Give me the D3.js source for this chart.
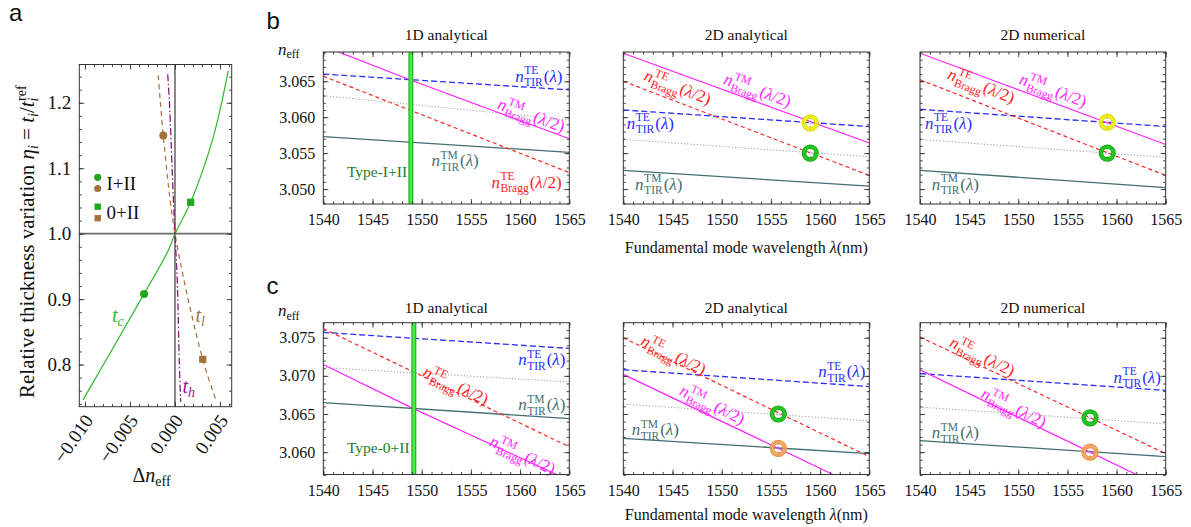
<!DOCTYPE html>
<html><head><meta charset="utf-8">
<script src="https://cdn.jsdelivr.net/npm/d3@7"></script>
<style>body{margin:0;background:#fff}svg{display:block}</style>
</head><body><svg id="chart" width="1191" height="527"></svg>
<script>
// ================= DATA =================
// Panel a : relative thickness variation vs delta n_eff
const tcX = [-0.01022, -0.00344, -0.00072, 0, 0.00174, 0.00426, 0.00592];
const tcY = [0.746, 0.908, 0.975, 1, 1.048, 1.148, 1.249];
const tlX = [-0.00186, -0.0013, 0, 0.00308, 0.00463];
const tlY = [1.242, 1.150, 1, 0.808, 0.743];
const thX = [-0.00081, -0.00063, -0.00019, 0, 0.00026, 0.00048, 0.00063];
const thY = [1.2435, 1.204, 1.056, 1, 0.924, 0.801, 0.743];
const ptsI = [[-0.00344, 0.908], [-0.0013, 1.150]];   // green, brown (circles)
const pts0 = [[0.00174, 1.048], [0.00308, 0.808]];   // green, brown (squares)
const aXTicks = [-0.010, -0.005, 0.000, 0.005];
const aYTicks = [0.8, 0.9, 1.0, 1.1, 1.2];

// Panels b, c : n_eff vs wavelength
const lamEnds = [1540, 1565];
const wlTicks = [1540, 1545, 1550, 1555, 1560, 1565];
const bYTicks = [3.050, 3.055, 3.060, 3.065];
const cYTicks = [3.060, 3.065, 3.070, 3.075];
const panelTitles = ["1D analytical", "2D analytical", "2D numerical"];

// b : 1D analytical
const b1TirTE = [3.0660, 3.0638];
const b1TirTM = [3.0573, 3.0551];
const b1BraggTE = [3.0657, 3.0523];
const b1BraggTMlam = [1540, 1549, 1565];
const b1BraggTM = [3.0699, 3.0651, 3.0570];
const b1Gray = [3.0630, 3.0596];
const b1Type = 1548.9;
// b : 2D analytical
const b2TirTE = [3.0610, 3.0587];
const b2TirTM = [3.0526, 3.0504];
const b2BraggTE = [3.0650, 3.0519];
const b2BraggTM = [3.0689, 3.0564];
const b2Gray = [3.0569, 3.0545];
const b2Marks = [1559.0, 3.0592, 3.0550];   // lambda, yellow, green
// b : 2D numerical
const b3TirTE = [3.0611, 3.0587];
const b3TirTM = [3.0526, 3.0502];
const b3BraggTE = [3.0652, 3.0519];
const b3BraggTM = [3.0689, 3.0562];
const b3Gray = [3.0569, 3.0544];
const b3Marks = [1559.05, 3.0593, 3.0550];

// c : 1D analytical
const c1TirTE = [3.0757, 3.0736];
const c1TirTM = [3.0665, 3.0644];
const c1BraggTE = [3.0762, 3.0607];
const c1BraggTMlam = [1540, 1549, 1565];
const c1BraggTM = [3.0715, 3.0658, 3.0563];
const c1Gray = [3.0711, 3.0692];
const c1Type = 1549.2;
// c : 2D analytical
const c2TirTE = [3.0708, 3.0686];
const c2TirTM = [3.0618, 3.0598];
const c2BraggTE = [3.0750, 3.0594];
const c2BraggTM = [3.0702, 3.0548];
const c2Gray = [3.0663, 3.0641];
const c2Marks = [1555.75, 3.0650, 3.0605];  // lambda, green, orange
// c : 2D numerical
const c3TirTE = [3.0703, 3.0681];
const c3TirTM = [3.0615, 3.0594];
const c3BraggTE = [3.0751, 3.0598];
const c3BraggTM = [3.0708, 3.0552];
const c3Gray = [3.0659, 3.0637];
const c3Marks = [1557.3, 3.0645, 3.0600];

// ================= STYLE =================
const SERIF = '"Liberation Serif","Times New Roman",serif';
const SANS = '"Liberation Sans",Arial,sans-serif';
const C = {blue:"#2b2bff", red:"#ff2222", mag:"#ff22ff", teal:"#436f70", gray:"#9a9a9a",
  green:"#2cb82c", brown:"#a5713f", purple:"#8a1a8a", dkgreen:"#1e7d1e"};

const svg = d3.select("#chart");
svg.append("rect").attr("width", 1191).attr("height", 527).attr("fill", "#fff");
let clipId = 0;

function frameAxes(g, x, y, xMaj, xMin, yMaj, yMin, o) {
  const [x0, x1] = x.range(), [yb, yt] = y.range();
  function ax(fn, scale, vals, len, fmt, tr, pad, fs) {
    const a = fn(scale).tickValues(vals).tickSize(-len).tickPadding(pad || 8).tickFormat(fmt || (() => ""));
    const gg = g.append("g").attr("transform", tr).call(a);
    gg.select(".domain").remove();
    gg.attr("font-family", SERIF).attr("font-size", fs || 16);
    gg.selectAll("line").attr("stroke", "#333").attr("stroke-width", 0.9);
    gg.selectAll("text").attr("fill", "#111");
    return gg;
  }
  const M = 5, m = 2.6;
  const bx = ax(d3.axisBottom, x, xMaj, M, o.xfmt, `translate(0,${yb})`, o.xpad, o.fs);
  ax(d3.axisBottom, x, xMin, m, null, `translate(0,${yb})`);
  ax(d3.axisTop, x, xMaj, M, null, `translate(0,${yt})`);
  ax(d3.axisTop, x, xMin, m, null, `translate(0,${yt})`);
  const ly = ax(d3.axisLeft, y, yMaj, M, o.yfmt, `translate(${x0},0)`, o.ypad, o.fs);
  ax(d3.axisLeft, y, yMin, m, null, `translate(${x0},0)`);
  ax(d3.axisRight, y, yMaj, M, null, `translate(${x1},0)`);
  ax(d3.axisRight, y, yMin, m, null, `translate(${x1},0)`);
  g.append("rect").attr("x", x0).attr("y", yt).attr("width", x1 - x0).attr("height", yb - yt)
    .attr("fill", "none").attr("stroke", "#333").attr("stroke-width", 1);
  return {bx, ly};
}

function nLabel(g, x, y, sup, sub, arg, color, rot) {
  const gg = g.append("g").attr("transform", `translate(${x},${y}) rotate(${rot || 0})`)
    .attr("fill", color).attr("font-family", SERIF);
  const n = gg.append("text").attr("font-size", 17).attr("font-style", "italic").text("n");
  const nw = n.node().getComputedTextLength();
  const sp = gg.append("text").attr("x", nw + 0.5).attr("y", -7.5).attr("font-size", 11.5).text(sup);
  const sb = gg.append("text").attr("x", nw + 0.5).attr("y", 4.5).attr("font-size", 11.5).text(sub);
  const w = Math.max(sp.node().getComputedTextLength(), sb.node().getComputedTextLength());
  const t = gg.append("text").attr("x", nw + w + 1.5).attr("font-size", 17);
  t.append("tspan").text("(");
  t.append("tspan").attr("font-style", "italic").text("λ");
  t.append("tspan").text(arg + ")");
}

function line2(g, x, y, lams, vals, color, dash, w) {
  const ln = d3.line().x((d, i) => x(lams[i])).y(d => y(d));
  g.append("path").datum(vals).attr("d", ln).attr("fill", "none").attr("stroke", color)
    .attr("stroke-width", w || 1.2).attr("stroke-dasharray", dash || null);
}

function ring(g, cx, cy, col, edge) {
  g.append("circle").attr("cx", cx).attr("cy", cy).attr("r", 6.3).attr("fill", "none")
    .attr("stroke", edge).attr("stroke-width", 4.6);
  g.append("circle").attr("cx", cx).attr("cy", cy).attr("r", 6.3).attr("fill", "none")
    .attr("stroke", col).attr("stroke-width", 3.2);
  g.append("line").attr("x1", cx).attr("x2", cx).attr("y1", cy - 7).attr("y2", cy + 7)
    .attr("stroke", "#888").attr("stroke-width", 0.7).attr("stroke-dasharray", "1,1.5");
  g.append("line").attr("x1", cx - 7).attr("x2", cx + 7).attr("y1", cy).attr("y2", cy)
    .attr("stroke", "#888").attr("stroke-width", 0.7).attr("stroke-dasharray", "1,1.5");
}

// ================= PANEL A =================
(function () {
  const g = svg.append("g");
  const x = d3.scaleLinear().domain([-0.010633, 0.0063]).range([79.3, 231.7]);
  const y = d3.scaleLinear().domain([0.7356, 1.2585]).range([406.7, 64.5]);
  const id = "clip" + (clipId++);
  g.append("clipPath").attr("id", id).append("rect").attr("x", 79.3).attr("y", 64.5)
    .attr("width", 152.4).attr("height", 342.2);
  const p = g.append("g").attr("clip-path", `url(#${id})`);
  p.append("line").attr("x1", x(-0.0107)).attr("x2", x(0.0064)).attr("y1", y(1)).attr("y2", y(1))
    .attr("stroke", "#6e6e6e").attr("stroke-width", 1.6);
  p.append("line").attr("x1", x(0)).attr("x2", x(0)).attr("y1", y(0.7)).attr("y2", y(1.3))
    .attr("stroke", "#111").attr("stroke-width", 1);
  const cur = (xs, ys) => d3.line().curve(d3.curveCatmullRom).x((d, i) => x(xs[i])).y(d => y(d))(ys);
  p.append("path").attr("d", cur(tcX, tcY)).attr("fill", "none").attr("stroke", C.green).attr("stroke-width", 1.2);
  p.append("path").attr("d", cur(tlX, tlY)).attr("fill", "none").attr("stroke", C.brown).attr("stroke-width", 1.2)
    .attr("stroke-dasharray", "5,4");
  p.append("path").attr("d", cur(thX, thY)).attr("fill", "none").attr("stroke", C.purple).attr("stroke-width", 1.3)
    .attr("stroke-dasharray", "7,2.5,1.5,2.5");
  // markers
  const cols = ["#1fa91f", C.brown];
  ptsI.forEach((d, i) => p.append("circle").attr("cx", x(d[0])).attr("cy", y(d[1])).attr("r", 4).attr("fill", cols[i]));
  pts0.forEach((d, i) => p.append("rect").attr("x", x(d[0]) - 3.6).attr("y", y(d[1]) - 3.6)
    .attr("width", 7.2).attr("height", 7.2).attr("fill", cols[i]));
  // legend
  g.append("circle").attr("cx", 97.7).attr("cy", 177.3).attr("r", 3.6).attr("fill", cols[0]);
  g.append("circle").attr("cx", 97.7).attr("cy", 188.5).attr("r", 3.6).attr("fill", cols[1]);
  g.append("rect").attr("x", 94.5).attr("y", 203.5).attr("width", 6.4).attr("height", 6.4).attr("fill", cols[0]);
  g.append("rect").attr("x", 94.5).attr("y", 215).attr("width", 6.4).attr("height", 6.4).attr("fill", cols[1]);
  g.append("text").attr("x", 106.5).attr("y", 190).attr("font-family", SERIF).attr("font-size", 19).attr("fill", "#111").text("I+II");
  g.append("text").attr("x", 106.5).attr("y", 218.5).attr("font-family", SERIF).attr("font-size", 19).attr("fill", "#111").text("0+II");
  // curve labels
  function tl(xx, yy, sub, col) {
    const t = g.append("text").attr("x", xx).attr("y", yy).attr("font-family", SERIF).attr("fill", col).attr("font-style", "italic");
    t.append("tspan").attr("font-size", 20).text("t");
    t.append("tspan").attr("font-size", 14).attr("dy", 4).text(sub);
  }
  tl(112, 321.5, "c", C.green);
  tl(195.5, 321.5, "l", C.brown);
  tl(182.5, 393, "h", C.purple);

  const minorX = d3.range(-10, 7).map(v => v / 1000);
  const minorY = d3.range(37, 63).map(v => v / 50);
  const ax = frameAxes(g, x, y, aXTicks, minorX, aYTicks, minorY,
    {xfmt: d3.format(".3f"), yfmt: d3.format(".1f"), fs: 19, ypad: 8});
  ax.bx.selectAll("text").attr("y", 0).attr("dy", "0.35em").attr("text-anchor", "end")
    .attr("transform", "translate(3,10) rotate(-55)");
  // axis titles
  const xt = g.append("text").attr("x", 151.5).attr("y", 482).attr("text-anchor", "middle")
    .attr("font-family", SERIF).attr("font-size", 20).attr("fill", "#111");
  xt.append("tspan").text("Δ");
  xt.append("tspan").attr("font-style", "italic").text("n");
  xt.append("tspan").attr("font-size", 14).attr("dy", 4).text("eff");
  const yt = g.append("text").attr("transform", "translate(34,398) rotate(-90)").attr("text-anchor", "start")
    .attr("font-family", SERIF).attr("font-size", 21).attr("fill", "#111");
  yt.append("tspan").text("Relative thickness variation ");
  yt.append("tspan").attr("font-style", "italic").text("η");
  yt.append("tspan").attr("font-style", "italic").attr("font-size", 14).attr("dy", 4).text("i");
  yt.append("tspan").attr("dy", -4).text(" = ");
  yt.append("tspan").attr("font-style", "italic").text("t");
  yt.append("tspan").attr("font-style", "italic").attr("font-size", 14).attr("dy", 4).text("i");
  yt.append("tspan").attr("dy", -4).text("/");
  yt.append("tspan").attr("font-style", "italic").text("t");
  yt.append("tspan").attr("font-style", "italic").attr("font-size", 14).attr("dy", 4).text("i");
  yt.append("tspan").attr("font-size", 14).attr("dx", -3.5).attr("dy", -12).text("ref");
  svg.append("text").attr("x", 9).attr("y", 20.5).attr("font-family", SANS).attr("font-size", 24).attr("fill", "#111").text("a");
})();

// ================= PANELS B, C =================
const cols3 = [[323.3, 569.3], [623.3, 869.3], [920, 1165.7]];
const rows = {
  b: {top: 52, bottom: 204, dom: [3.04792, 3.06907], ticks: bYTicks, minor: d3.range(3048, 3070).map(v => v / 1000),
      titleY: 40, letterY: 29, neffY: 54.5, xlabY: 252.5},
  c: {top: 322.7, bottom: 474.5, dom: [3.05707, 3.07697], ticks: cYTicks, minor: d3.range(3057, 3077).map(v => v / 1000),
      titleY: 313, letterY: 294, neffY: 316, xlabY: 519.5}
};

const panels = [
  {row: "b", col: 0, tirTE: b1TirTE, tirTM: b1TirTM, braggTE: b1BraggTE, braggTMlam: b1BraggTMlam, braggTM: b1BraggTM, gray: b1Gray,
   type: b1Type, typeText: "Type-I+II", typePos: [1542.4, 3.0517],
   labels: [["TE", "TIR", "", C.blue, 1559.5, 3.0649, 0], ["TM", "Bragg", "/2", C.mag, 1557.6, 3.0612, 20],
            ["TM", "TIR", "", C.teal, 1551.0, 3.0532, 0], ["TE", "Bragg", "/2", C.red, 1557.1, 3.0502, 0]]},
  {row: "b", col: 1, tirTE: b2TirTE, tirTM: b2TirTM, braggTE: b2BraggTE, braggTMlam: lamEnds, braggTM: b2BraggTM, gray: b2Gray,
   marks: b2Marks, markCols: [["#f0f01a", "#d2d200"], ["#1ec81e", "#14a014"]],
   labels: [["TE", "Bragg", "/2", C.red, 1542.0, 3.0652, 21], ["TM", "Bragg", "/2", C.mag, 1550.1, 3.0647, 20],
            ["TE", "TIR", "", C.blue, 1540.35, 3.0584, 0], ["TM", "TIR", "", C.teal, 1541.2, 3.0499, 0]]},
  {row: "b", col: 2, tirTE: b3TirTE, tirTM: b3TirTM, braggTE: b3BraggTE, braggTMlam: lamEnds, braggTM: b3BraggTM, gray: b3Gray,
   marks: b3Marks, markCols: [["#f0f01a", "#d2d200"], ["#1ec81e", "#14a014"]],
   labels: [["TE", "Bragg", "/2", C.red, 1542.7, 3.0654, 21], ["TM", "Bragg", "/2", C.mag, 1550.0, 3.0647, 20],
            ["TE", "TIR", "", C.blue, 1540.5, 3.0584, 0], ["TM", "TIR", "", C.teal, 1541.2, 3.0499, 0]]},
  {row: "c", col: 0, tirTE: c1TirTE, tirTM: c1TirTM, braggTE: c1BraggTE, braggTMlam: c1BraggTMlam, braggTM: c1BraggTM, gray: c1Gray,
   type: c1Type, typeText: "Type-0+II", typePos: [1542.4, 3.0599],
   labels: [["TE", "TIR", "", C.blue, 1559.8, 3.0714, 0], ["TE", "Bragg", "/2", C.red, 1550.0, 3.0700, 25],
            ["TM", "TIR", "", C.teal, 1559.8, 3.0655, 0], ["TM", "Bragg", "/2", C.mag, 1556.8, 3.0609, 25]]},
  {row: "c", col: 1, tirTE: c2TirTE, tirTM: c2TirTM, braggTE: c2BraggTE, braggTMlam: lamEnds, braggTM: c2BraggTM, gray: c2Gray,
   marks: c2Marks, markCols: [["#1ec81e", "#14a014"], ["#f5a862", "#e48a3c"]],
   labels: [["TE", "Bragg", "/2", C.red, 1541.66, 3.0741, 26], ["TE", "TIR", "", C.blue, 1559.8, 3.0698, 0],
            ["TM", "Bragg", "/2", C.mag, 1545.6, 3.0676, 26], ["TM", "TIR", "", C.teal, 1540.85, 3.0622, 0]]},
  {row: "c", col: 2, tirTE: c3TirTE, tirTM: c3TirTM, braggTE: c3BraggTE, braggTMlam: lamEnds, braggTM: c3BraggTM, gray: c3Gray,
   marks: c3Marks, markCols: [["#1ec81e", "#14a014"], ["#f5a862", "#e48a3c"]],
   labels: [["TE", "Bragg", "/2", C.red, 1542.9, 3.0739, 26], ["TE", "TIR", "", C.blue, 1559.7, 3.0691, 0],
            ["TM", "Bragg", "/2", C.mag, 1546.1, 3.0672, 26], ["TM", "TIR", "", C.teal, 1541.2, 3.0618, 0]]}
];

panels.forEach(P => {
  const R = rows[P.row], [x0, x1] = cols3[P.col];
  const g = svg.append("g");
  const x = d3.scaleLinear().domain([1540, 1565]).range([x0, x1]);
  const y = d3.scaleLinear().domain(R.dom).range([R.bottom, R.top]);
  const id = "clip" + (clipId++);
  g.append("clipPath").attr("id", id).append("rect").attr("x", x0).attr("y", R.top)
    .attr("width", x1 - x0).attr("height", R.bottom - R.top);
  const p = g.append("g").attr("clip-path", `url(#${id})`);
  line2(p, x, y, lamEnds, P.gray, C.gray, "1.2,2", 1);
  line2(p, x, y, lamEnds, P.tirTM, C.teal, null, 1.3);
  line2(p, x, y, lamEnds, P.tirTE, C.blue, "6,3", 1.3);
  line2(p, x, y, lamEnds, P.braggTE, C.red, "4,3", 1.2);
  line2(p, x, y, P.braggTMlam, P.braggTM, C.mag, null, 1.2);
  if (P.type) {
    p.append("line").attr("x1", x(P.type)).attr("x2", x(P.type)).attr("y1", R.top).attr("y2", R.bottom)
      .attr("stroke", "#27b027").attr("stroke-width", 5);
    p.append("line").attr("x1", x(P.type)).attr("x2", x(P.type)).attr("y1", R.top).attr("y2", R.bottom)
      .attr("stroke", "#44ee44").attr("stroke-width", 2.6);
    g.append("text").attr("x", x(P.typePos[0])).attr("y", y(P.typePos[1])).attr("font-family", SERIF)
      .attr("font-size", 15.5).attr("fill", C.dkgreen).text(P.typeText);
  }
  if (P.marks) {
    ring(p, x(P.marks[0]), y(P.marks[1]), P.markCols[0][0], P.markCols[0][1]);
    ring(p, x(P.marks[0]), y(P.marks[2]), P.markCols[1][0], P.markCols[1][1]);
  }
  P.labels.forEach(L => nLabel(g, x(L[4]), y(L[5]), L[0], L[1], L[2], L[3], L[6]));
  const minorX = d3.range(1540, 1566);
  frameAxes(g, x, y, wlTicks, minorX, R.ticks, R.minor,
    {xfmt: d3.format("d"), yfmt: P.col === 0 ? d3.format(".3f") : (() => ""), fs: 16, xpad: 10, ypad: 8});
  g.append("text").attr("x", (x0 + x1) / 2).attr("y", R.titleY).attr("text-anchor", "middle")
    .attr("font-family", SERIF).attr("font-size", 15.5).attr("fill", "#111").text(panelTitles[P.col]);
  if (P.col === 0) {
    const ne = g.append("text").attr("x", 278).attr("y", R.neffY).attr("font-family", SERIF).attr("fill", "#111");
    ne.append("tspan").attr("font-size", 17).attr("font-style", "italic").text("n");
    ne.append("tspan").attr("font-size", 12).attr("dy", 3.5).text("eff");
    svg.append("text").attr("x", 266.5).attr("y", R.letterY).attr("font-family", SANS).attr("font-size", 24)
      .attr("fill", "#111").text(P.row);
  }
  if (P.col === 1) {
    const xl = g.append("text").attr("x", (x0 + x1) / 2).attr("y", R.xlabY).attr("text-anchor", "middle")
      .attr("font-family", SERIF).attr("font-size", 16).attr("fill", "#111");
    xl.append("tspan").text("Fundamental mode wavelength ");
    xl.append("tspan").attr("font-style", "italic").text("λ");
    xl.append("tspan").text("(nm)");
  }
});
</script></body></html>
